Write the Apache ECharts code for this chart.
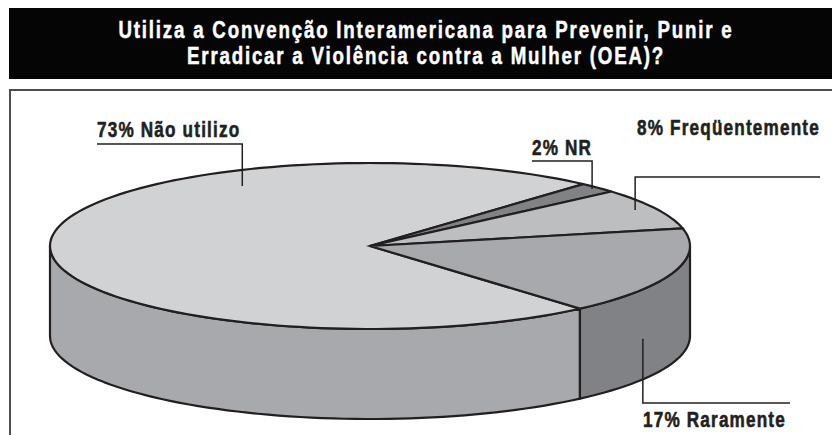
<!DOCTYPE html>
<html>
<head>
<meta charset="utf-8">
<script src="https://cdn.jsdelivr.net/npm/echarts@6/dist/echarts.min.js"></script>
<style>
  html, body { margin: 0; padding: 0; background: #fff; }
  #main { width: 832px; height: 435px; }
  /* the reference type is condensed but tracked out */
  #main text[style*="24px"] { letter-spacing: 2.3px; }
  #main text[style*="22px"] { letter-spacing: 1.5px; }
</style>
</head>
<body>
<div id="main"></div>
<script>
  // chart data
  var titleLines = [
    'Utiliza a Convenção Interamericana para Prevenir, Punir e',
    'Erradicar a Violência contra a Mulher (OEA)?'
  ];
  var categories = ['Não utilizo', 'NR', 'Freqüentemente', 'Raramente'];
  var values = [73, 2, 8, 17];

  // look of the pie
  var topColors = ['#d1d2d4', '#808285', '#bcbec0', '#a7a9ac'];
  var sideColors = ['#a7a9ac', '#6d6e71', '#939598', '#808285'];
  var cx = 370, cy = 246, rx = 320, ry = 83, depth = 90;
  var startAngle = 49; // degrees, clockwise on screen
  var font = '"Liberation Sans", Arial, sans-serif';
  var squeeze = 0.78;

  // where each label sits: t along slice, r radial, dz down the side
  var labelLayout = [
    { t: 0.731, r: 0.826, dz: 0, elbowY: 144, endX: 97, textX: 97, textY: 135 },
    { t: 0.49, r: 0.976, dz: 0, elbowY: 161, endX: 532, textX: 532, textY: 153 },
    { t: 0.465, r: 0.935, dz: 0, elbowY: 177, endX: 820, textX: 637, textY: 133 },
    { t: 0.714, r: 1, dz: 0.55, elbowY: 403, endX: 790, textX: 643, textY: 425 }
  ];

  var total = values.reduce(function (s, v) { return s + v; }, 0);
  var slices = [];
  var acc = startAngle;
  values.forEach(function (v, i) {
    var a1 = acc + v / total * 360;
    slices.push([acc, a1, v, i]);
    acc = a1;
  });

  function pt(a, r, dz) {
    var rad = a * Math.PI / 180;
    return [cx + r * rx * Math.cos(rad), cy + r * ry * Math.sin(rad) + dz];
  }

  function arc(a0, a1, dz) {
    var pts = [];
    var n = Math.max(2, Math.ceil(Math.abs(a1 - a0) / 2));
    for (var k = 0; k <= n; k++) {
      pts.push(pt(a0 + (a1 - a0) * k / n, 1, dz));
    }
    return pts;
  }

  function renderSide(params, api) {
    var i = params.dataIndex;
    var a0 = api.value(0), a1 = api.value(1);
    var children = [];
    [0, 360].forEach(function (base) {
      var s = Math.max(a0, base), e = Math.min(a1, base + 180);
      if (e > s) {
        var pts = arc(s, e, 0).concat(arc(e, s, depth));
        children.push({
          type: 'polygon',
          shape: { points: pts },
          style: { fill: sideColors[i], stroke: '#231f20', lineWidth: 2.2, lineJoin: 'round' }
        });
      }
    });
    return { type: 'group', children: children };
  }

  function renderTop(params, api) {
    var i = params.dataIndex;
    var a0 = api.value(0), a1 = api.value(1);
    var pts = [[cx, cy]].concat(arc(a0, a1, 0));
    return {
      type: 'polygon',
      shape: { points: pts },
      style: { fill: topColors[i], stroke: '#231f20', lineWidth: 2.2, lineJoin: 'miter' }
    };
  }

  function renderLabel(params, api) {
    var i = params.dataIndex;
    var a0 = api.value(0), a1 = api.value(1);
    var L = labelLayout[i];
    var p = pt(a0 + (a1 - a0) * L.t, L.r, L.dz * depth);
    return {
      type: 'group',
      children: [{
        type: 'polyline',
        shape: { points: [p, [p[0], L.elbowY], [L.endX, L.elbowY]] },
        style: { fill: null, stroke: '#231f20', lineWidth: 1.5 }
      }, {
        type: 'text',
        x: L.textX,
        y: L.textY + 5,
        scaleX: squeeze,
        style: {
          x: 0, y: 0,
          text: api.value(2) + '% ' + categories[i],
          fill: '#231f20',
          stroke: '#231f20',
          lineWidth: 0.6,
          font: 'bold 22px ' + font,
          align: 'left', verticalAlign: 'bottom'
        }
      }]
    };
  }

  var myChart = echarts.init(document.getElementById('main'), null, { renderer: 'svg' });

  var titleBaselines = [37, 63];
  var titleTexts = titleLines.map(function (line, i) {
    return {
      type: 'text',
      x: 426,
      y: titleBaselines[i] + 5,
      scaleX: squeeze,
      style: {
        x: 0, y: 0,
        text: line,
        fill: '#fff',
        stroke: '#fff',
        lineWidth: 0.5,
        font: 'bold 24px ' + font,
        align: 'center', verticalAlign: 'bottom'
      }
    };
  });

  var option = {
    animation: false,
    backgroundColor: '#fff',
    graphic: [{
      type: 'rect',
      z: -1,
      shape: { x: 9, y: 8, width: 830, height: 71 },
      style: { fill: '#050505' }
    }, {
      type: 'rect',
      z: -1,
      shape: { x: 10, y: 90, width: 840, height: 360 },
      style: { fill: null, stroke: '#4d4d4d', lineWidth: 2 }
    }].concat(titleTexts),
    series: [{
      type: 'custom',
      name: 'sides',
      coordinateSystem: 'none',
      renderItem: renderSide,
      data: slices,
      z: 1
    }, {
      type: 'custom',
      name: 'tops',
      coordinateSystem: 'none',
      renderItem: renderTop,
      data: slices,
      z: 2
    }, {
      type: 'custom',
      name: 'labels',
      coordinateSystem: 'none',
      renderItem: renderLabel,
      data: slices,
      z: 3
    }]
  };

  myChart.setOption(option);
  window.addEventListener('resize', function () {
    myChart.resize();
  });
</script>
</body>
</html>
